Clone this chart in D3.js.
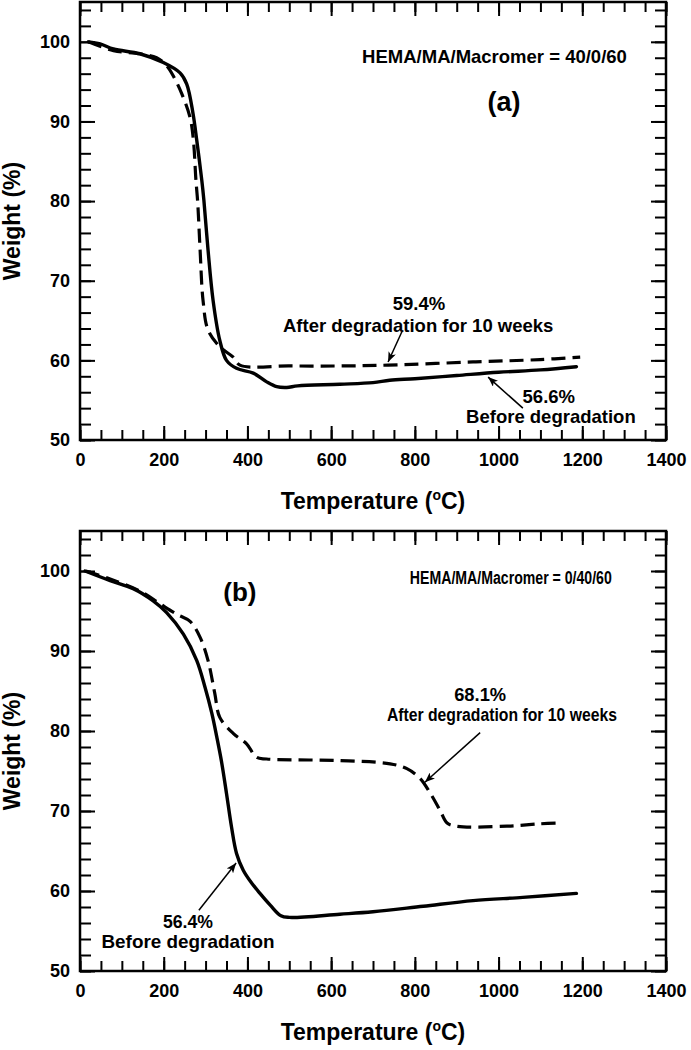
<!DOCTYPE html>
<html>
<head>
<meta charset="utf-8">
<script src="https://cdn.jsdelivr.net/npm/d3@7"></script>
<style>
  html, body { margin: 0; padding: 0; background: #fff; }
  svg { display: block; font-family: "Liberation Sans", Arial, sans-serif; font-weight: bold; }
</style>
</head>
<body>
<script>
// ---------- data ----------
const xMajorTicks = [0, 200, 400, 600, 800, 1000, 1200, 1400];
const xMinorTicks = d3.range(0, 1401, 50);
const yMajorTicks = [50, 60, 70, 80, 90, 100];
const yMinorTicks = d3.range(50, 105, 2);

// Panel (a): HEMA/MA/Macromer = 40/0/60
const aBeforeT = [20, 48, 80, 143, 199, 239, 255, 270, 279, 291, 296, 306, 318, 334, 350, 374, 414, 446, 470, 494, 520, 621, 700, 740, 800, 900, 1000, 1100, 1186];
const aBeforeW = [100, 99.75, 99.1, 98.5, 97.4, 96.1, 94.7, 91, 87.6, 82.6, 80.1, 73.8, 67.5, 62.5, 60, 59, 58.4, 57.3, 56.7, 56.6, 56.8, 57.0, 57.2, 57.5, 57.7, 58.1, 58.5, 58.8, 59.2];
const aAfterT = [20, 80, 143, 183, 207, 223, 243, 263, 271, 277, 281, 287, 294, 306, 334, 366, 382, 500, 621, 736, 939, 1099, 1195];
const aAfterW = [100, 98.9, 98.5, 98, 97, 95.7, 93.5, 90.5, 87.6, 82.6, 80, 73.8, 67.5, 63.8, 61.7, 60.4, 59.4, 59.3, 59.3, 59.4, 59.8, 60.1, 60.4];

// Panel (b): HEMA/MA/Macromer = 0/40/60
const bBeforeT = [12, 72, 127, 174, 207, 247, 279, 299, 315, 327, 338, 350, 362, 374, 390, 410, 430, 455, 480, 500, 621, 700, 820, 939, 1058, 1186];
const bBeforeW = [100, 98.8, 97.8, 96.3, 94.8, 92.1, 88.8, 85.4, 82.2, 79.2, 76.2, 72.2, 68, 64.7, 62.6, 61.0, 59.7, 58.2, 56.9, 56.7, 57.1, 57.4, 58.1, 58.8, 59.2, 59.7];
const bAfterT = [14, 72, 143, 191, 231, 263, 287, 306, 322, 334, 366, 398, 422, 446, 621, 741, 781, 812, 836, 860, 877, 900, 1020, 1100, 1147];
const bAfterW = [100, 99, 97.5, 95.9, 94.6, 93.7, 91.7, 88.8, 84.7, 81.7, 79.7, 78.4, 76.7, 76.5, 76.3, 75.9, 75.3, 74.1, 72.3, 70.1, 68.5, 68.1, 68.1, 68.4, 68.5];

// ---------- layout ----------
const W = 691, H = 1050;
const xLeft = 80, xRight = 666;
const panels = [
  {
    top: 2, bottom: 440,
    before: [aBeforeT, aBeforeW], after: [aAfterT, aAfterW],
    texts: [
      { t: "HEMA/MA/Macromer = 40/0/60", x: 674, y: 97.4, anchor: "start", size: 18.5 },
      { t: "(a)", x: 1013, y: 91.3, anchor: "middle", size: 27 },
      { t: "59.4%", x: 810, y: 66.3, anchor: "middle", size: 18.5 },
      { t: "After degradation for 10 weeks", x: 808, y: 63.5, anchor: "middle", size: 18.5 },
      { t: "56.6%", x: 1120, y: 54.6, anchor: "middle", size: 18.5 },
      { t: "Before degradation", x: 1125, y: 52.1, anchor: "middle", size: 18.5 }
    ],
    arrows: [
      { x1: 769, y1: 63.6, x2: 736, y2: 59.8 },
      { x1: 1058, y1: 54.0, x2: 975, y2: 57.9 }
    ]
  },
  {
    top: 531, bottom: 971,
    before: [bBeforeT, bBeforeW], after: [bAfterT, bAfterW],
    texts: [
      { t: "HEMA/MA/Macromer = 0/40/60", x: 788, y: 98.4, anchor: "start", size: 18, len: 202 },
      { t: "(b)", x: 382, y: 96.3, anchor: "middle", size: 26 },
      { t: "68.1%", x: 956, y: 83.8, anchor: "middle", size: 18, len: 52 },
      { t: "After degradation for 10 weeks", x: 1008, y: 81.3, anchor: "middle", size: 18, len: 230 },
      { t: "56.4%", x: 258, y: 55.4, anchor: "middle", size: 18, len: 50 },
      { t: "Before degradation", x: 258, y: 52.9, anchor: "middle", size: 18.5, len: 173 }
    ],
    arrows: [
      { x1: 956, y1: 79.8, x2: 824, y2: 73.6 },
      { x1: 284, y1: 57.6, x2: 373, y2: 63.5 }
    ]
  }
];

const svg = d3.select("body").append("svg").attr("width", W).attr("height", H);

svg.append("defs").append("marker")
  .attr("id", "arrowhead")
  .attr("markerUnits", "userSpaceOnUse")
  .attr("viewBox", "0 0 10 8")
  .attr("refX", 10).attr("refY", 4)
  .attr("markerWidth", 10).attr("markerHeight", 8)
  .attr("orient", "auto")
  .append("path").attr("d", "M0,0 L10,4 L0,8 L2.5,4 Z").attr("fill", "#000");

const x = d3.scaleLinear().domain([0, 1400]).range([xLeft, xRight]);

panels.forEach(p => {
  const y = d3.scaleLinear().domain([50, 105]).range([p.bottom, p.top]);
  const g = svg.append("g");

  function styleAxis(sel) {
    sel.select(".domain").remove();
    sel.selectAll(".tick line").attr("stroke", "#000").attr("stroke-width", 2);
    sel.selectAll(".tick text").attr("fill", "#000")
      .style("font-family", "'Liberation Sans', Arial, sans-serif")
      .style("font-weight", "bold").style("font-size", "18px");
  }

  // left
  g.append("g").attr("transform", `translate(${xLeft},0)`)
    .call(d3.axisLeft(y).tickValues(yMinorTicks).tickSize(-11).tickFormat(""))
    .call(styleAxis);
  g.append("g").attr("transform", `translate(${xLeft},0)`)
    .call(d3.axisLeft(y).tickValues(yMajorTicks).tickSize(-15).tickPadding(10).tickFormat(d3.format("d")))
    .call(styleAxis);
  // right
  g.append("g").attr("transform", `translate(${xRight},0)`)
    .call(d3.axisRight(y).tickValues(yMinorTicks).tickSize(-11).tickFormat(""))
    .call(styleAxis);
  g.append("g").attr("transform", `translate(${xRight},0)`)
    .call(d3.axisRight(y).tickValues(yMajorTicks).tickSize(-15).tickFormat(""))
    .call(styleAxis);
  // top
  g.append("g").attr("transform", `translate(0,${p.top})`)
    .call(d3.axisTop(x).tickValues(xMinorTicks).tickSize(-10).tickFormat(""))
    .call(styleAxis);
  g.append("g").attr("transform", `translate(0,${p.top})`)
    .call(d3.axisTop(x).tickValues(xMajorTicks).tickSize(-14).tickFormat(""))
    .call(styleAxis);
  // bottom
  g.append("g").attr("transform", `translate(0,${p.bottom})`)
    .call(d3.axisBottom(x).tickValues(xMinorTicks).tickSize(-10).tickFormat(""))
    .call(styleAxis);
  g.append("g").attr("transform", `translate(0,${p.bottom})`)
    .call(d3.axisBottom(x).tickValues(xMajorTicks).tickSize(-14).tickPadding(13).tickFormat(d3.format("d")))
    .call(styleAxis);

  // frame
  g.append("rect")
    .attr("x", xLeft).attr("y", p.top)
    .attr("width", xRight - xLeft).attr("height", p.bottom - p.top)
    .attr("fill", "none").attr("stroke", "#000").attr("stroke-width", 2.5);

  // curves
  const line = d3.line().x(d => x(d[0])).y(d => y(d[1])).curve(d3.curveCatmullRom.alpha(0.5));
  const before = p.before[0].map((t, i) => [t, p.before[1][i]]);
  const after = p.after[0].map((t, i) => [t, p.after[1][i]]);
  g.append("path").datum(after).attr("d", line)
    .attr("fill", "none").attr("stroke", "#000").attr("stroke-width", 3.2)
    .attr("stroke-dasharray", "14,7");
  g.append("path").datum(before).attr("d", line)
    .attr("fill", "none").attr("stroke", "#000").attr("stroke-width", 3.4)
    .attr("stroke-linejoin", "round").attr("stroke-linecap", "round");

  // annotations
  p.texts.forEach(a => {
    const t = g.append("text").attr("x", x(a.x)).attr("y", y(a.y))
      .attr("text-anchor", a.anchor).style("font-size", a.size + "px")
      .attr("fill", "#000").text(a.t);
    if (a.len) t.attr("textLength", a.len).attr("lengthAdjust", "spacingAndGlyphs");
  });
  p.arrows.forEach(a => {
    g.append("line")
      .attr("x1", x(a.x1)).attr("y1", y(a.y1))
      .attr("x2", x(a.x2)).attr("y2", y(a.y2))
      .attr("stroke", "#000").attr("stroke-width", 1.5)
      .attr("marker-end", "url(#arrowhead)");
  });

  // axis titles
  const xt = g.append("text")
    .attr("x", (xLeft + xRight) / 2).attr("y", p.bottom + 69)
    .attr("text-anchor", "middle").style("font-size", "23px").attr("fill", "#000");
  xt.append("tspan").text("Temperature (");
  xt.append("tspan").attr("dy", -9).style("font-size", "14px").text("o");
  xt.append("tspan").attr("dy", 9).text("C)");

  g.append("text")
    .attr("transform", `translate(20,${(p.top + p.bottom) / 2}) rotate(-90)`)
    .attr("text-anchor", "middle").style("font-size", "23px").attr("fill", "#000")
    .text("Weight (%)");
});
</script>
</body>
</html>
